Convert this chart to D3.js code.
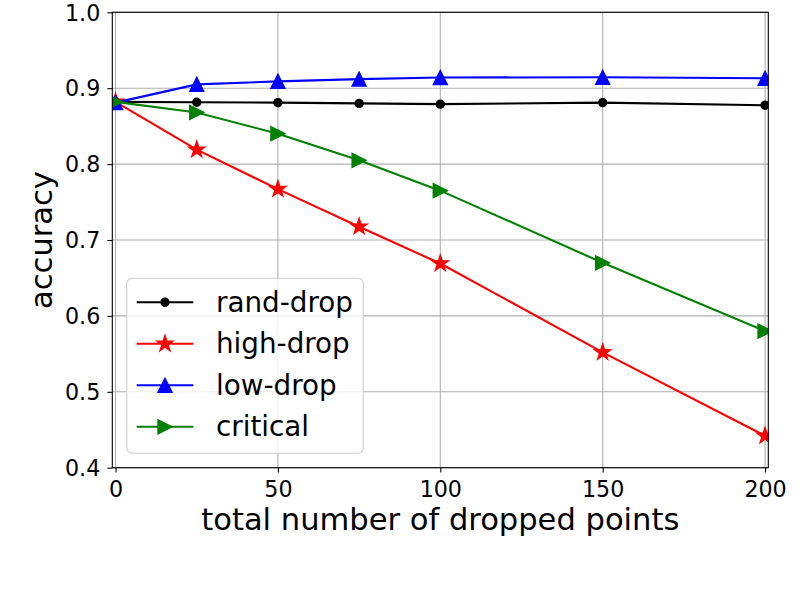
<!DOCTYPE html>
<html>
<head>
<meta charset="utf-8">
<script src="https://cdn.jsdelivr.net/npm/d3@7"></script>
<style>
  body { margin: 0; background: #fff; }
  text { font-family: "DejaVu Sans", sans-serif; fill: #000; }
</style>
</head>
<body>
<div id="container"></div>
<script>
// data
let dropped = [0, 25, 50, 75, 100, 150, 200];
let randDrop = [0.882, 0.8815, 0.881, 0.880, 0.879, 0.881, 0.8775];
let highDrop = [0.882, 0.819, 0.767, 0.7175, 0.669, 0.552, 0.442];
let lowDrop = [0.881, 0.905, 0.909, 0.912, 0.914, 0.9145, 0.913];
let critical = [0.882, 0.868, 0.840, 0.805, 0.765, 0.670, 0.580];
let seriesNames = ["rand-drop", "high-drop", "low-drop", "critical"];
let xTicks = [0, 50, 100, 150, 200];
let yTicks = [0.4, 0.5, 0.6, 0.7, 0.8, 0.9, 1.0];

let w = 800;
let h = 600;
let pLeft = 112.3, pRight = 768.3, pTop = 12.3, pBottom = 467.7;

let x = d3.scaleLinear().domain([-1, 201]).range([pLeft, pRight]);
let y = d3.scaleLinear().domain([0.4, 1.0]).range([pBottom, pTop]);

// matplotlib-like marker shapes, r = half size in px
let dotMark = {draw: function(c, r) { c.moveTo(r, 0); c.arc(0, 0, r, 0, 2 * Math.PI); }};
let starMark = {draw: function(c, r) {
  for (let i = 0; i < 10; i++) {
    let rr = i % 2 == 0 ? r : r * 0.381966;
    let a = -Math.PI / 2 + i * Math.PI / 5;
    if (i == 0) c.moveTo(rr * Math.cos(a), rr * Math.sin(a));
    else c.lineTo(rr * Math.cos(a), rr * Math.sin(a));
  }
  c.closePath();
}};
let upMark = {draw: function(c, r) { c.moveTo(0, -r); c.lineTo(-r, r); c.lineTo(r, r); c.closePath(); }};
let rightMark = {draw: function(c, r) { c.moveTo(r, 0); c.lineTo(-r, -r); c.lineTo(-r, r); c.closePath(); }};

let series = [
  {name: seriesNames[0], values: randDrop, color: "#000000", mark: dotMark, r: 4},
  {name: seriesNames[1], values: highDrop, color: "#ff0000", mark: starMark, r: 8.4},
  {name: seriesNames[2], values: lowDrop, color: "#0000ff", mark: upMark, r: 7},
  {name: seriesNames[3], values: critical, color: "#008000", mark: rightMark, r: 7}
];

function markPath(s) {
  let p = d3.path();
  s.mark.draw(p, s.r);
  return p.toString();
}

let viz = d3.select("#container").append("svg")
    .attr("width", w)
    .attr("height", h);

viz.append("defs").append("clipPath")
    .attr("id", "plotclip")
  .append("rect")
    .attr("x", pLeft)
    .attr("y", pTop)
    .attr("width", pRight - pLeft)
    .attr("height", pBottom - pTop);

// grid
let grid = viz.append("g").attr("class", "grid");
grid.selectAll("line.gx")
  .data(xTicks)
  .enter().append("line")
    .attr("x1", d => x(d)).attr("x2", d => x(d))
    .attr("y1", pTop).attr("y2", pBottom)
    .attr("stroke", "#b0b0b0")
    .attr("stroke-width", 1.1);
grid.selectAll("line.gy")
  .data(yTicks)
  .enter().append("line")
    .attr("x1", pLeft).attr("x2", pRight)
    .attr("y1", d => y(d)).attr("y2", d => y(d))
    .attr("stroke", "#b0b0b0")
    .attr("stroke-width", 1.1);

// lines + markers
let plot = viz.append("g").attr("clip-path", "url(#plotclip)");
let line = d3.line()
    .x((d, i) => x(dropped[i]))
    .y(d => y(d));

series.forEach(function(s) {
  plot.append("path")
    .attr("d", line(s.values))
    .attr("fill", "none")
    .attr("stroke", s.color)
    .attr("stroke-width", 2.08);
  plot.selectAll(null)
    .data(s.values)
    .enter().append("path")
    .attr("d", markPath(s))
    .attr("transform", (d, i) => "translate(" + x(dropped[i]) + "," + y(d) + ")")
    .attr("fill", s.color)
    .attr("stroke", s.color)
    .attr("stroke-width", 1.39);
});

// frame
viz.append("rect")
    .attr("x", pLeft)
    .attr("y", pTop)
    .attr("width", pRight - pLeft)
    .attr("height", pBottom - pTop)
    .attr("fill", "none")
    .attr("stroke", "#000")
    .attr("stroke-width", 1.1);

// axes
let xAxis = viz.append("g")
    .attr("transform", "translate(0," + pBottom + ")")
    .call(d3.axisBottom(x).tickValues(xTicks).tickSize(4.9).tickPadding(4.9).tickFormat(d3.format("d")));
let yAxis = viz.append("g")
    .attr("transform", "translate(" + pLeft + ",0)")
    .call(d3.axisLeft(y).tickValues(yTicks).tickSize(4.9).tickPadding(4.9).tickFormat(d3.format(".1f")));
[xAxis, yAxis].forEach(function(a) {
  a.select(".domain").remove();
  a.selectAll(".tick line").attr("stroke", "#000").attr("stroke-width", 1.1);
  a.selectAll(".tick text")
    .attr("font-family", "DejaVu Sans")
    .attr("font-size", 22.2)
    .attr("fill", "#000");
});
xAxis.selectAll(".tick text").attr("dy", null).attr("y", 29);
yAxis.selectAll(".tick text").attr("dy", "0.35em").attr("x", -12);

viz.append("text")
    .text("total number of dropped points")
    .attr("x", (pLeft + pRight) / 2)
    .attr("y", 530)
    .attr("text-anchor", "middle")
    .attr("font-size", 30.56);
viz.append("text")
    .text("accuracy")
    .attr("transform", "translate(52," + (pTop + pBottom) / 2 + ") rotate(-90)")
    .attr("text-anchor", "middle")
    .attr("font-size", 30.56);

// legend
let leg = viz.append("g").attr("class", "legend");
leg.append("rect")
    .attr("x", 126.7)
    .attr("y", 278.3)
    .attr("width", 236.6)
    .attr("height", 175)
    .attr("rx", 5.5)
    .attr("fill", "#fff")
    .attr("fill-opacity", 0.8)
    .attr("stroke", "#cccccc")
    .attr("stroke-width", 1.1);
let rows = leg.selectAll("g.row")
  .data(series)
  .enter().append("g")
    .attr("transform", (d, i) => "translate(0," + (302.3 + i * 41.5) + ")");
rows.append("line")
    .attr("x1", 136.7).attr("x2", 193.3)
    .attr("stroke", d => d.color)
    .attr("stroke-width", 2.08);
rows.append("path")
    .attr("d", d => markPath(d))
    .attr("transform", "translate(165,0)")
    .attr("fill", d => d.color)
    .attr("stroke", d => d.color)
    .attr("stroke-width", 1.39);
rows.append("text")
    .text(d => d.name)
    .attr("x", 216)
    .attr("y", 9.6)
    .attr("font-size", 27.8);
</script>
</body>
</html>
